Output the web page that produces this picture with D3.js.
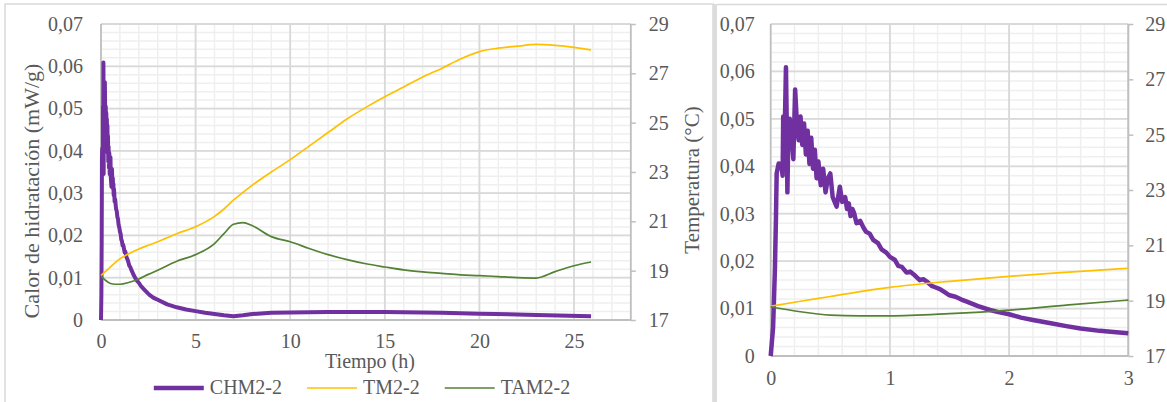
<!DOCTYPE html>
<html>
<head>
<meta charset="utf-8">
<script src="https://cdn.jsdelivr.net/npm/d3@7"></script>
<style>
  body { margin: 0; background: #fff; }
</style>
</head>
<body>
<div class="main"></div>
<script>
// heat of hydration, CHM2-2 (mW/g) against time (h)
const chmTime = [0, 0.02, 0.035, 0.044, 0.05, 0.067, 0.09, 0.1, 0.105, 0.112, 0.12, 0.128, 0.134, 0.14, 0.148,
    0.16, 0.175, 0.19, 0.205, 0.22, 0.235, 0.25, 0.265, 0.28, 0.295, 0.31, 0.325, 0.34, 0.355, 0.37, 0.385,
    0.4, 0.42, 0.44, 0.46, 0.48, 0.5, 0.52, 0.553, 0.58, 0.6, 0.625, 0.64, 0.655, 0.67, 0.685, 0.7, 0.72, 0.75,
    0.78, 0.8, 0.83, 0.86, 0.9, 0.93, 0.97, 1.0, 1.04, 1.07, 1.1, 1.14, 1.17, 1.2, 1.25, 1.28, 1.31, 1.35, 1.38,
    1.42, 1.45, 1.5, 1.55, 1.6, 1.64, 1.74, 1.84, 1.92, 2.0, 2.1, 2.2, 2.35, 2.48, 2.6,
    2.76, 2.9, 3.0, 3.5, 4, 4.5, 5, 5.5, 6, 6.5, 7, 7.5, 8, 9, 10, 12, 15, 18, 20, 23, 25.9];
const chmValue = [0, 0.006, 0.018, 0.029, 0.0385, 0.0406, 0.0404, 0.038, 0.0505, 0.048, 0.0505, 0.0609, 0.05, 0.0345, 0.047,
    0.05, 0.046, 0.0415, 0.0562, 0.049, 0.0455, 0.0505, 0.0445, 0.049, 0.0425, 0.0475, 0.0405, 0.046, 0.0395, 0.0435, 0.0375,
    0.041, 0.036, 0.0395, 0.0345, 0.0375, 0.0385, 0.0335, 0.0315, 0.0357, 0.0325, 0.0335, 0.031, 0.0322, 0.0295, 0.031, 0.0301, 0.028, 0.0285,
    0.027, 0.0262, 0.0258, 0.0245, 0.0238, 0.0225, 0.0218, 0.0209, 0.0203, 0.019, 0.0188, 0.0176, 0.0178, 0.0172, 0.016, 0.0162, 0.0157, 0.0148, 0.0145,
    0.0141, 0.0136, 0.0128, 0.0125, 0.0119, 0.0115, 0.0105, 0.0097, 0.0092, 0.0088, 0.0081, 0.0076, 0.0069, 0.0063, 0.0058,
    0.0053, 0.005, 0.0048, 0.0037, 0.003, 0.0025, 0.0021, 0.0017, 0.0014, 0.0011, 0.0009, 0.0011, 0.0014, 0.0017, 0.0018, 0.0019, 0.0019, 0.0017, 0.0015, 0.0012, 0.0009];

// temperatures (°C) against time (h)
const tempTime = [0, 0.25, 0.5, 0.75, 1, 1.5, 2, 2.5, 3, 4, 5, 6, 6.5, 7, 7.5, 8, 9, 10, 11, 12, 13, 14, 15, 16, 17,
    18, 19, 20, 21, 22, 23, 24, 25, 25.9];
const tmValue = [18.8, 18.98, 19.15, 19.33, 19.48, 19.7, 19.88, 20.03, 20.17, 20.5, 20.78, 21.2, 21.5, 21.86, 22.17, 22.47, 23.0, 23.5, 24.05, 24.6, 25.15, 25.62, 26.05, 26.45, 26.85,
    27.2, 27.58, 27.88, 28.02, 28.1, 28.17, 28.13, 28.05, 27.95];
const tamValue = [18.78, 18.6, 18.48, 18.45, 18.45, 18.53, 18.66, 18.85, 19.02, 19.38, 19.65, 20.1, 20.5, 20.88, 20.95, 20.82, 20.38, 20.17, 19.9, 19.65, 19.45, 19.28, 19.15, 19.03, 18.95,
    18.89, 18.83, 18.8, 18.76, 18.72, 18.7, 18.96, 19.2, 19.35];

const seriesNames = ["CHM2-2", "TM2-2", "TAM2-2"];
const seriesColors = ["#7030A0", "#FFC000", "#548235"];

const heatTicks = [0, 0.01, 0.02, 0.03, 0.04, 0.05, 0.06, 0.07];
const tempTicks = [17, 19, 21, 23, 25, 27, 29];
const wideTimeTicks = [0, 5, 10, 15, 20, 25];
const zoomTimeTicks = [0, 1, 2, 3];

const yTitle = "Calor de hidratación (mW/g)";
const y2Title = "Temperatura (°C)";
const xTitle = "Tiempo (h)";

const serif = "'Liberation Serif', 'Times New Roman', serif";
const textColor = "#595959";

let width = 1167;
let height = 402;

let svg = d3.select(".main").append("svg")
    .attr("width", width)
    .attr("height", height);

// frames round the two charts
svg.append("rect")
    .attr("x", 5).attr("y", 4)
    .attr("width", 708).attr("height", 430)
    .attr("fill", "none")
    .attr("stroke", "#D9D9D9")
    .attr("stroke-width", 1.5);
svg.append("rect")
    .attr("x", 713).attr("y", 4)
    .attr("width", 4).attr("height", 400)
    .attr("fill", "#DCDCDC");
svg.append("line")
    .attr("x1", 717).attr("x2", width)
    .attr("y1", 4.5).attr("y2", 4.5)
    .attr("stroke", "#D9D9D9")
    .attr("stroke-width", 1.5);

const heatFormat = d => d === 0 ? "0" : d.toFixed(2).replace(".", ",");

function drawPanel(p) {
    let x = d3.scaleLinear().domain([0, p.xMax]).range([p.left, p.right]);
    let y = d3.scaleLinear().domain([0, 0.07]).range([p.bottom, p.top]);
    let y2 = d3.scaleLinear().domain([17, 29]).range([p.bottom, p.top]);

    let g = svg.append("g");

    // minor grid
    let minorX = d3.range(0, p.xMax + 1e-9, p.xMinor);
    let minorY = d3.range(0, 0.07 + 1e-9, 0.002);
    g.append("g").selectAll("line")
        .data(minorX).enter().append("line")
        .attr("x1", d => x(d)).attr("x2", d => x(d))
        .attr("y1", p.top).attr("y2", p.bottom)
        .attr("stroke", "#EFEFEF").attr("stroke-width", 1.5);
    g.append("g").selectAll("line")
        .data(minorY).enter().append("line")
        .attr("x1", p.left).attr("x2", p.right)
        .attr("y1", d => y(d)).attr("y2", d => y(d))
        .attr("stroke", "#EFEFEF").attr("stroke-width", 1.5);

    // major grid
    g.append("g").selectAll("line")
        .data(p.timeTicks.filter(d => d > 0)).enter().append("line")
        .attr("x1", d => x(d)).attr("x2", d => x(d))
        .attr("y1", p.top).attr("y2", p.bottom)
        .attr("stroke", "#D9D9D9").attr("stroke-width", 1.8);
    g.append("g").selectAll("line")
        .data(heatTicks.filter(d => d > 0)).enter().append("line")
        .attr("x1", p.left).attr("x2", p.right)
        .attr("y1", d => y(d)).attr("y2", d => y(d))
        .attr("stroke", "#D9D9D9").attr("stroke-width", 1.8);

    // axes
    let leftAxis = g.append("g")
        .attr("transform", `translate(${p.left},0)`)
        .call(d3.axisLeft(y).tickValues(heatTicks).tickFormat(heatFormat).tickSize(0).tickPadding(p.leftPad));
    let rightAxis = g.append("g")
        .attr("transform", `translate(${p.right},0)`)
        .call(d3.axisRight(y2).tickValues(tempTicks).tickSize(5).tickPadding(p.rightPad));
    let bottomAxis = g.append("g")
        .attr("transform", `translate(0,${p.bottom})`)
        .call(d3.axisBottom(x).tickValues(p.timeTicks).tickFormat(d3.format("d")).tickSize(0).tickPadding(p.bottomPad));

    [leftAxis, rightAxis, bottomAxis].forEach(a => {
        a.attr("font-family", serif).attr("font-size", 20);
        a.select(".domain").attr("stroke", "#BFBFBF").attr("stroke-width", 1.8);
        a.selectAll(".tick line").attr("stroke", "#BFBFBF").attr("stroke-width", 1.5);
        a.selectAll("text")
            .attr("font-family", serif)
            .attr("font-size", 20)
            .attr("fill", textColor);
    });
    rightAxis.select(".domain").attr("d", `M0,${p.top}V${p.bottom}`);
    leftAxis.select(".domain").attr("d", `M0,${p.top}V${p.bottom}`);
    bottomAxis.select(".domain").attr("d", `M${p.left},0H${p.right}`);

    // series
    let chmData = chmTime.map((t, i) => ({ t: t, v: chmValue[i] })).filter(d => d.t <= p.xMax);
    let tmData = tempTime.map((t, i) => ({ t: t, v: tmValue[i] })).filter(d => d.t <= p.xMax);
    let tamData = tempTime.map((t, i) => ({ t: t, v: tamValue[i] })).filter(d => d.t <= p.xMax);

    // the raw calorimeter trace is jagged, so straight segments there
    let heatLine = d3.line().x(d => x(d.t)).y(d => y(d.v));
    let tempLine = d3.line().x(d => x(d.t)).y(d => y2(d.v)).curve(d3.curveMonotoneX);

    g.append("path")
        .datum(chmData)
        .attr("d", heatLine)
        .attr("fill", "none")
        .attr("stroke", seriesColors[0])
        .attr("stroke-width", p.heatWidth)
        .attr("stroke-linejoin", "round");
    g.append("path")
        .datum(tmData)
        .attr("d", tempLine)
        .attr("fill", "none")
        .attr("stroke", seriesColors[1])
        .attr("stroke-width", 1.7);
    g.append("path")
        .datum(tamData)
        .attr("d", tempLine)
        .attr("fill", "none")
        .attr("stroke", seriesColors[2])
        .attr("stroke-width", 1.7);
}

// whole test, 0 - 28 h
drawPanel({
    left: 101, right: 630.8, top: 24, bottom: 320,
    xMax: 28, xMinor: 1, timeTicks: wideTimeTicks,
    leftPad: 18, rightPad: 13, bottomPad: 14, heatWidth: 4
});

// first three hours
drawPanel({
    left: 770.7, right: 1128.3, top: 24, bottom: 356,
    xMax: 3, xMinor: 0.2, timeTicks: zoomTimeTicks,
    leftPad: 16, rightPad: 12, bottomPad: 15, heatWidth: 4.5
});

// titles of the wide chart
svg.append("text")
    .attr("transform", "translate(39,191) rotate(-90)")
    .attr("text-anchor", "middle")
    .attr("font-family", serif)
    .attr("font-size", 22)
    .attr("fill", textColor)
    .text(yTitle);
svg.append("text")
    .attr("transform", "translate(699,180) rotate(-90)")
    .attr("text-anchor", "middle")
    .attr("font-family", serif)
    .attr("font-size", 21)
    .attr("fill", textColor)
    .text(y2Title);
svg.append("text")
    .attr("x", 370).attr("y", 368)
    .attr("text-anchor", "middle")
    .attr("font-family", serif)
    .attr("font-size", 20)
    .attr("fill", textColor)
    .text(xTitle);

// legend
let legend = svg.append("g");
let cursor = 0;
seriesNames.forEach((name, i) => {
    let item = legend.append("g").attr("transform", `translate(${cursor},0)`);
    item.append("line")
        .attr("x1", 0).attr("x2", 50)
        .attr("y1", 388).attr("y2", 388)
        .attr("stroke", seriesColors[i])
        .attr("stroke-width", i === 0 ? 4.5 : 1.7);
    let label = item.append("text")
        .attr("x", 56).attr("y", 394)
        .attr("font-family", serif)
        .attr("font-size", 20)
        .attr("fill", textColor)
        .text(name);
    cursor += 56 + label.node().getComputedTextLength() + 25;
});
let legendWidth = cursor - 25;
legend.attr("transform", `translate(${362 - legendWidth / 2},0)`);
</script>
</body>
</html>
